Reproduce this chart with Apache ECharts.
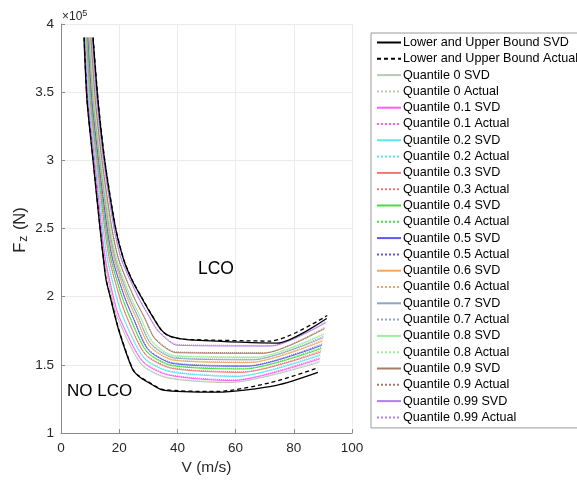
<!DOCTYPE html>
<html>
<head>
<meta charset="utf-8">
<script src="https://cdn.jsdelivr.net/npm/echarts@6/dist/echarts.min.js"></script>
<style>
  html, body { margin: 0; padding: 0; background: #fff; }
  #main { width: 577px; height: 481px; }
</style>
</head>
<body>
<div id="main"></div>
<script>
// curves are [V (m/s), Fz (x1e5 N)] pairs
const lowerSvd = [[7.9,3.9],[8.93,3.44],[11.0,3.0],[13.4,2.5],[14.6,2.27],[15.46,2.127],[16.9,2.0],[19.76,1.76],[24.57,1.468],[26.8,1.415],[29.9,1.373],[35.05,1.315],[53.5,1.30],[74,1.35],[88.3,1.445]]
const lowerAct = [[7.95,3.9],[8.98,3.44],[11.05,3.0],[13.45,2.5],[14.65,2.27],[15.5,2.127],[16.95,2.0],[19.85,1.76],[24.65,1.468],[26.9,1.418],[30.0,1.376],[35.1,1.32],[53.5,1.305],[72,1.37],[88,1.476]]
const upperSvd = [[11,3.9],[12.7,3.44],[15.0,3.0],[18.76,2.5],[21.5,2.273],[24.3,2.127],[27.5,2.0],[31,1.87],[34.3,1.76],[36.5,1.72],[39.2,1.70],[44.3,1.683],[74.2,1.66],[91.3,1.84]]
const upperAct = [[11.05,3.9],[12.75,3.44],[15.05,3.0],[18.82,2.5],[21.56,2.273],[24.36,2.127],[27.6,2.0],[31.1,1.87],[34.4,1.758],[36.7,1.716],[39.4,1.697],[44.3,1.686],[72,1.675],[91.5,1.862]]

const q0Svd = [[8.06,3.9],[9.12,3.44],[11.36,3.0],[13.67,2.5],[14.95,2.27],[17.43,2.0],[19.35,1.85],[27.5,1.505],[36.5,1.405],[58,1.37],[88.8,1.52]]
const q0Act = [[8.1,3.9],[9.17,3.44],[11.41,3.0],[13.73,2.5],[15.02,2.27],[17.52,2.0],[19.45,1.85],[27.6,1.51],[36.6,1.41],[58.5,1.375],[88.9,1.53]]
const q1Svd = [[8.21,3.9],[9.31,3.44],[11.55,3.0],[13.94,2.5],[15.29,2.27],[17.96,2.0],[20.0,1.85],[28,1.525],[37,1.425],[59,1.385],[89,1.545]]
const q1Act = [[8.25,3.9],[9.36,3.44],[11.61,3.0],[14.0,2.5],[15.36,2.27],[18.05,2.0],[20.1,1.85],[28.1,1.53],[37.1,1.43],[59.5,1.39],[89.1,1.555]]
const q2Svd = [[8.52,3.9],[9.68,3.44],[11.94,3.0],[14.47,2.5],[15.98,2.27],[19.02,2.0],[21.3,1.85],[28.5,1.55],[37.5,1.45],[60.5,1.415],[89.1,1.571]]
const q2Act = [[8.56,3.9],[9.73,3.44],[12.0,3.0],[14.54,2.5],[16.06,2.27],[19.1,2.0],[21.42,1.85],[28.6,1.555],[37.6,1.455],[61,1.42],[89.2,1.58]]
const q3Svd = [[8.83,3.9],[10.06,3.44],[12.32,3.0],[15.01,2.5],[16.67,2.27],[20.08,2.0],[22.6,1.85],[29,1.575],[38,1.475],[62,1.445],[89.3,1.595]]
const q3Act = [[8.87,3.9],[10.11,3.44],[12.38,3.0],[15.09,2.5],[16.75,2.27],[20.17,2.0],[22.72,1.85],[29.1,1.58],[38.1,1.48],[62.5,1.45],[89.4,1.605]]
const q4Svd = [[9.08,3.9],[10.36,3.44],[12.63,3.0],[15.44,2.5],[17.22,2.27],[20.93,2.0],[23.64,1.85],[29.5,1.595],[38,1.495],[63,1.47],[89.5,1.62]]
const q4Act = [[9.12,3.9],[10.41,3.44],[12.69,3.0],[15.51,2.5],[17.3,2.27],[21.02,2.0],[23.75,1.85],[29.6,1.6],[38.1,1.5],[63.5,1.475],[89.6,1.63]]
const q5Svd = [[9.33,3.9],[10.66,3.44],[12.93,3.0],[15.87,2.5],[17.77,2.27],[21.78,2.0],[24.68,1.85],[30,1.61],[38.5,1.51],[64,1.49],[89.7,1.644]]
const q5Act = [[9.37,3.9],[10.71,3.44],[12.99,3.0],[15.95,2.5],[17.85,2.27],[21.87,2.0],[24.8,1.85],[30.1,1.615],[38.6,1.515],[64.5,1.495],[89.8,1.654]]
const q6Svd = [[9.57,3.9],[10.97,3.44],[13.24,3.0],[16.29,2.5],[18.33,2.27],[22.62,2.0],[25.72,1.85],[30.5,1.635],[38.5,1.535],[65,1.517],[89.9,1.675]]
const q6Act = [[9.61,3.9],[11.02,3.44],[13.3,3.0],[16.37,2.5],[18.41,2.27],[22.71,2.0],[25.84,1.85],[30.6,1.64],[38.6,1.54],[65.5,1.522],[90,1.685]]
const q7Svd = [[9.76,3.9],[11.19,3.44],[13.47,3.0],[16.62,2.5],[18.74,2.27],[23.26,2.0],[26.5,1.85],[31,1.65],[39,1.55],[66,1.537],[90.1,1.70]]
const q7Act = [[9.8,3.9],[11.24,3.44],[13.53,3.0],[16.7,2.5],[18.82,2.27],[23.35,2.0],[26.62,1.85],[31.1,1.655],[39.1,1.555],[66.5,1.542],[90.2,1.71]]
const q8Svd = [[9.95,3.9],[11.42,3.44],[13.7,3.0],[16.94,2.5],[19.15,2.27],[23.9,2.0],[27.28,1.85],[31.5,1.665],[39,1.565],[67,1.555],[90.3,1.724]]
const q8Act = [[9.99,3.9],[11.47,3.44],[13.76,3.0],[17.02,2.5],[19.23,2.27],[23.99,2.0],[27.4,1.85],[31.6,1.67],[39.1,1.57],[67.5,1.56],[90.4,1.734]]
const q9Svd = [[10.26,3.9],[11.8,3.44],[14.08,3.0],[17.47,2.5],[19.84,2.27],[24.96,2.0],[28.58,1.85],[32.3,1.69],[39.5,1.59],[69.5,1.585],[90.6,1.766]]
const q9Act = [[10.3,3.9],[11.85,3.44],[14.14,3.0],[17.55,2.5],[19.92,2.27],[25.05,2.0],[28.7,1.85],[32.4,1.695],[39.6,1.595],[70,1.59],[90.7,1.776]]
const q99Svd = [[10.69,3.9],[12.32,3.44],[14.62,3.0],[18.22,2.5],[20.81,2.27],[26.44,2.0],[30.4,1.85],[33.5,1.744],[40,1.644],[72,1.638],[91,1.81]]
const q99Act = [[10.73,3.9],[12.37,3.44],[14.68,3.0],[18.3,2.5],[20.89,2.27],[26.54,2.0],[30.5,1.85],[33.6,1.749],[40.1,1.649],[72.5,1.643],[91.1,1.82]]

const quantiles = ['0', '0.1', '0.2', '0.3', '0.4', '0.5', '0.6', '0.7', '0.8', '0.9', '0.99']
const svdCurves = [q0Svd, q1Svd, q2Svd, q3Svd, q4Svd, q5Svd, q6Svd, q7Svd, q8Svd, q9Svd, q99Svd]
const actCurves = [q0Act, q1Act, q2Act, q3Act, q4Act, q5Act, q6Act, q7Act, q8Act, q9Act, q99Act]
const xTicks = [0, 20, 40, 60, 80, 100]
const yTicks = [1, 1.5, 2, 2.5, 3, 3.5, 4]

// colours of the quantile lines
const qColors = ['#b9c9b9', '#ff5cff', '#5ce6ee', '#f07878', '#44dd44', '#5a5ae6',
  '#f0a860', '#8ea6bf', '#9cef9c', '#a97a68', '#b080f0']

const font = 'Liberation Sans, Arial, Helvetica, sans-serif'

function mkLine(name, data, color, type, width) {
  return {
    name: name,
    type: 'line',
    data: data,
    symbol: 'none',
    smooth: 0.25,
    clip: true,
    lineStyle: { color: color, width: width, type: type },
    itemStyle: { color: color },
    emphasis: { disabled: true },
    animation: false
  }
}

var series = []
var legendNames = ['Lower and Upper Bound SVD', 'Lower and Upper Bound Actual']
quantiles.forEach((q, i) => {
  series.push(mkLine('Quantile ' + q + ' SVD', svdCurves[i], qColors[i], 'solid', 1))
  series.push(mkLine('Quantile ' + q + ' Actual', actCurves[i], qColors[i], 'dotted', 1))
  legendNames.push('Quantile ' + q + ' SVD', 'Quantile ' + q + ' Actual')
})
series.push(mkLine('Lower and Upper Bound SVD', lowerSvd, '#000', 'solid', 1.3))
series.push(mkLine('Lower and Upper Bound SVD', upperSvd, '#000', 'solid', 1.3))
series.push(mkLine('Lower and Upper Bound Actual', lowerAct, '#000', [4, 3], 1.3))
series.push(mkLine('Lower and Upper Bound Actual', upperAct, '#000', [4, 3], 1.3))

var myChart = echarts.init(document.getElementById('main'))
var option = {
  animation: false,
  backgroundColor: '#fff',
  textStyle: { fontFamily: font },
  grid: { left: 61, right: 225, top: 24, bottom: 47 },
  xAxis: {
    type: 'value',
    min: xTicks[0],
    max: xTicks[xTicks.length - 1],
    interval: 20,
    name: 'V (m/s)',
    nameLocation: 'middle',
    nameGap: 23,
    nameTextStyle: { fontSize: 15.5, color: '#262626', fontFamily: font },
    axisLine: { lineStyle: { color: '#8a8a8a', width: 1 } },
    axisTick: { inside: true, length: 4, lineStyle: { color: '#8a8a8a' } },
    axisLabel: { fontSize: 13.5, color: '#262626', margin: 8, fontFamily: font },
    splitLine: { show: true, lineStyle: { color: '#ebebeb', width: 1 } }
  },
  yAxis: {
    type: 'value',
    min: yTicks[0],
    max: yTicks[yTicks.length - 1],
    interval: 0.5,
    axisLine: { show: true, lineStyle: { color: '#8a8a8a', width: 1 } },
    axisTick: { show: true, inside: true, length: 4, lineStyle: { color: '#8a8a8a' } },
    axisLabel: { fontSize: 13.5, color: '#262626', margin: 7, fontFamily: font },
    splitLine: { show: true, lineStyle: { color: '#ebebeb', width: 1 } }
  },
  legend: {
    data: legendNames,
    orient: 'vertical',
    left: 371,
    top: 33,
    padding: [3, 6, 4, 5],
    itemWidth: 24,
    itemHeight: 12,
    itemGap: 3.3,
    itemStyle: { opacity: 0 },
    backgroundColor: '#fff',
    borderColor: '#9a9a9a',
    borderWidth: 1,
    borderRadius: 0,
    selectedMode: false,
    textStyle: { fontSize: 12.6, color: '#000', fontFamily: font, padding: [0, 0, 0, -3] }
  },
  graphic: [
    {
      // y axis title, drawn by hand so it sits where the original has it
      type: 'text', x: 20, y: 230, rotation: Math.PI / 2,
      style: {
        text: 'F{sub|z} (N)', fill: '#262626', font: '16.5px ' + font,
        align: 'center', verticalAlign: 'middle',
        rich: { sub: { fontSize: 12, verticalAlign: 'bottom', padding: [7, 1, 0, 1], fill: '#262626' } }
      }
    },
    {
      type: 'text', left: 62, top: 9,
      style: {
        text: '×10{sup|5}', fill: '#262626', font: '12px ' + font,
        rich: { sup: { fontSize: 9, verticalAlign: 'top', padding: [0, 0, 6, 0] } }
      }
    },
    { type: 'text', left: 198, top: 260, style: { text: 'LCO', fill: '#000', font: '17.5px ' + font } },
    { type: 'text', left: 67, top: 383, style: { text: 'NO LCO', fill: '#000', font: '17px ' + font } }
  ],
  series: series
}
myChart.setOption(option)
</script>
</body>
</html>
